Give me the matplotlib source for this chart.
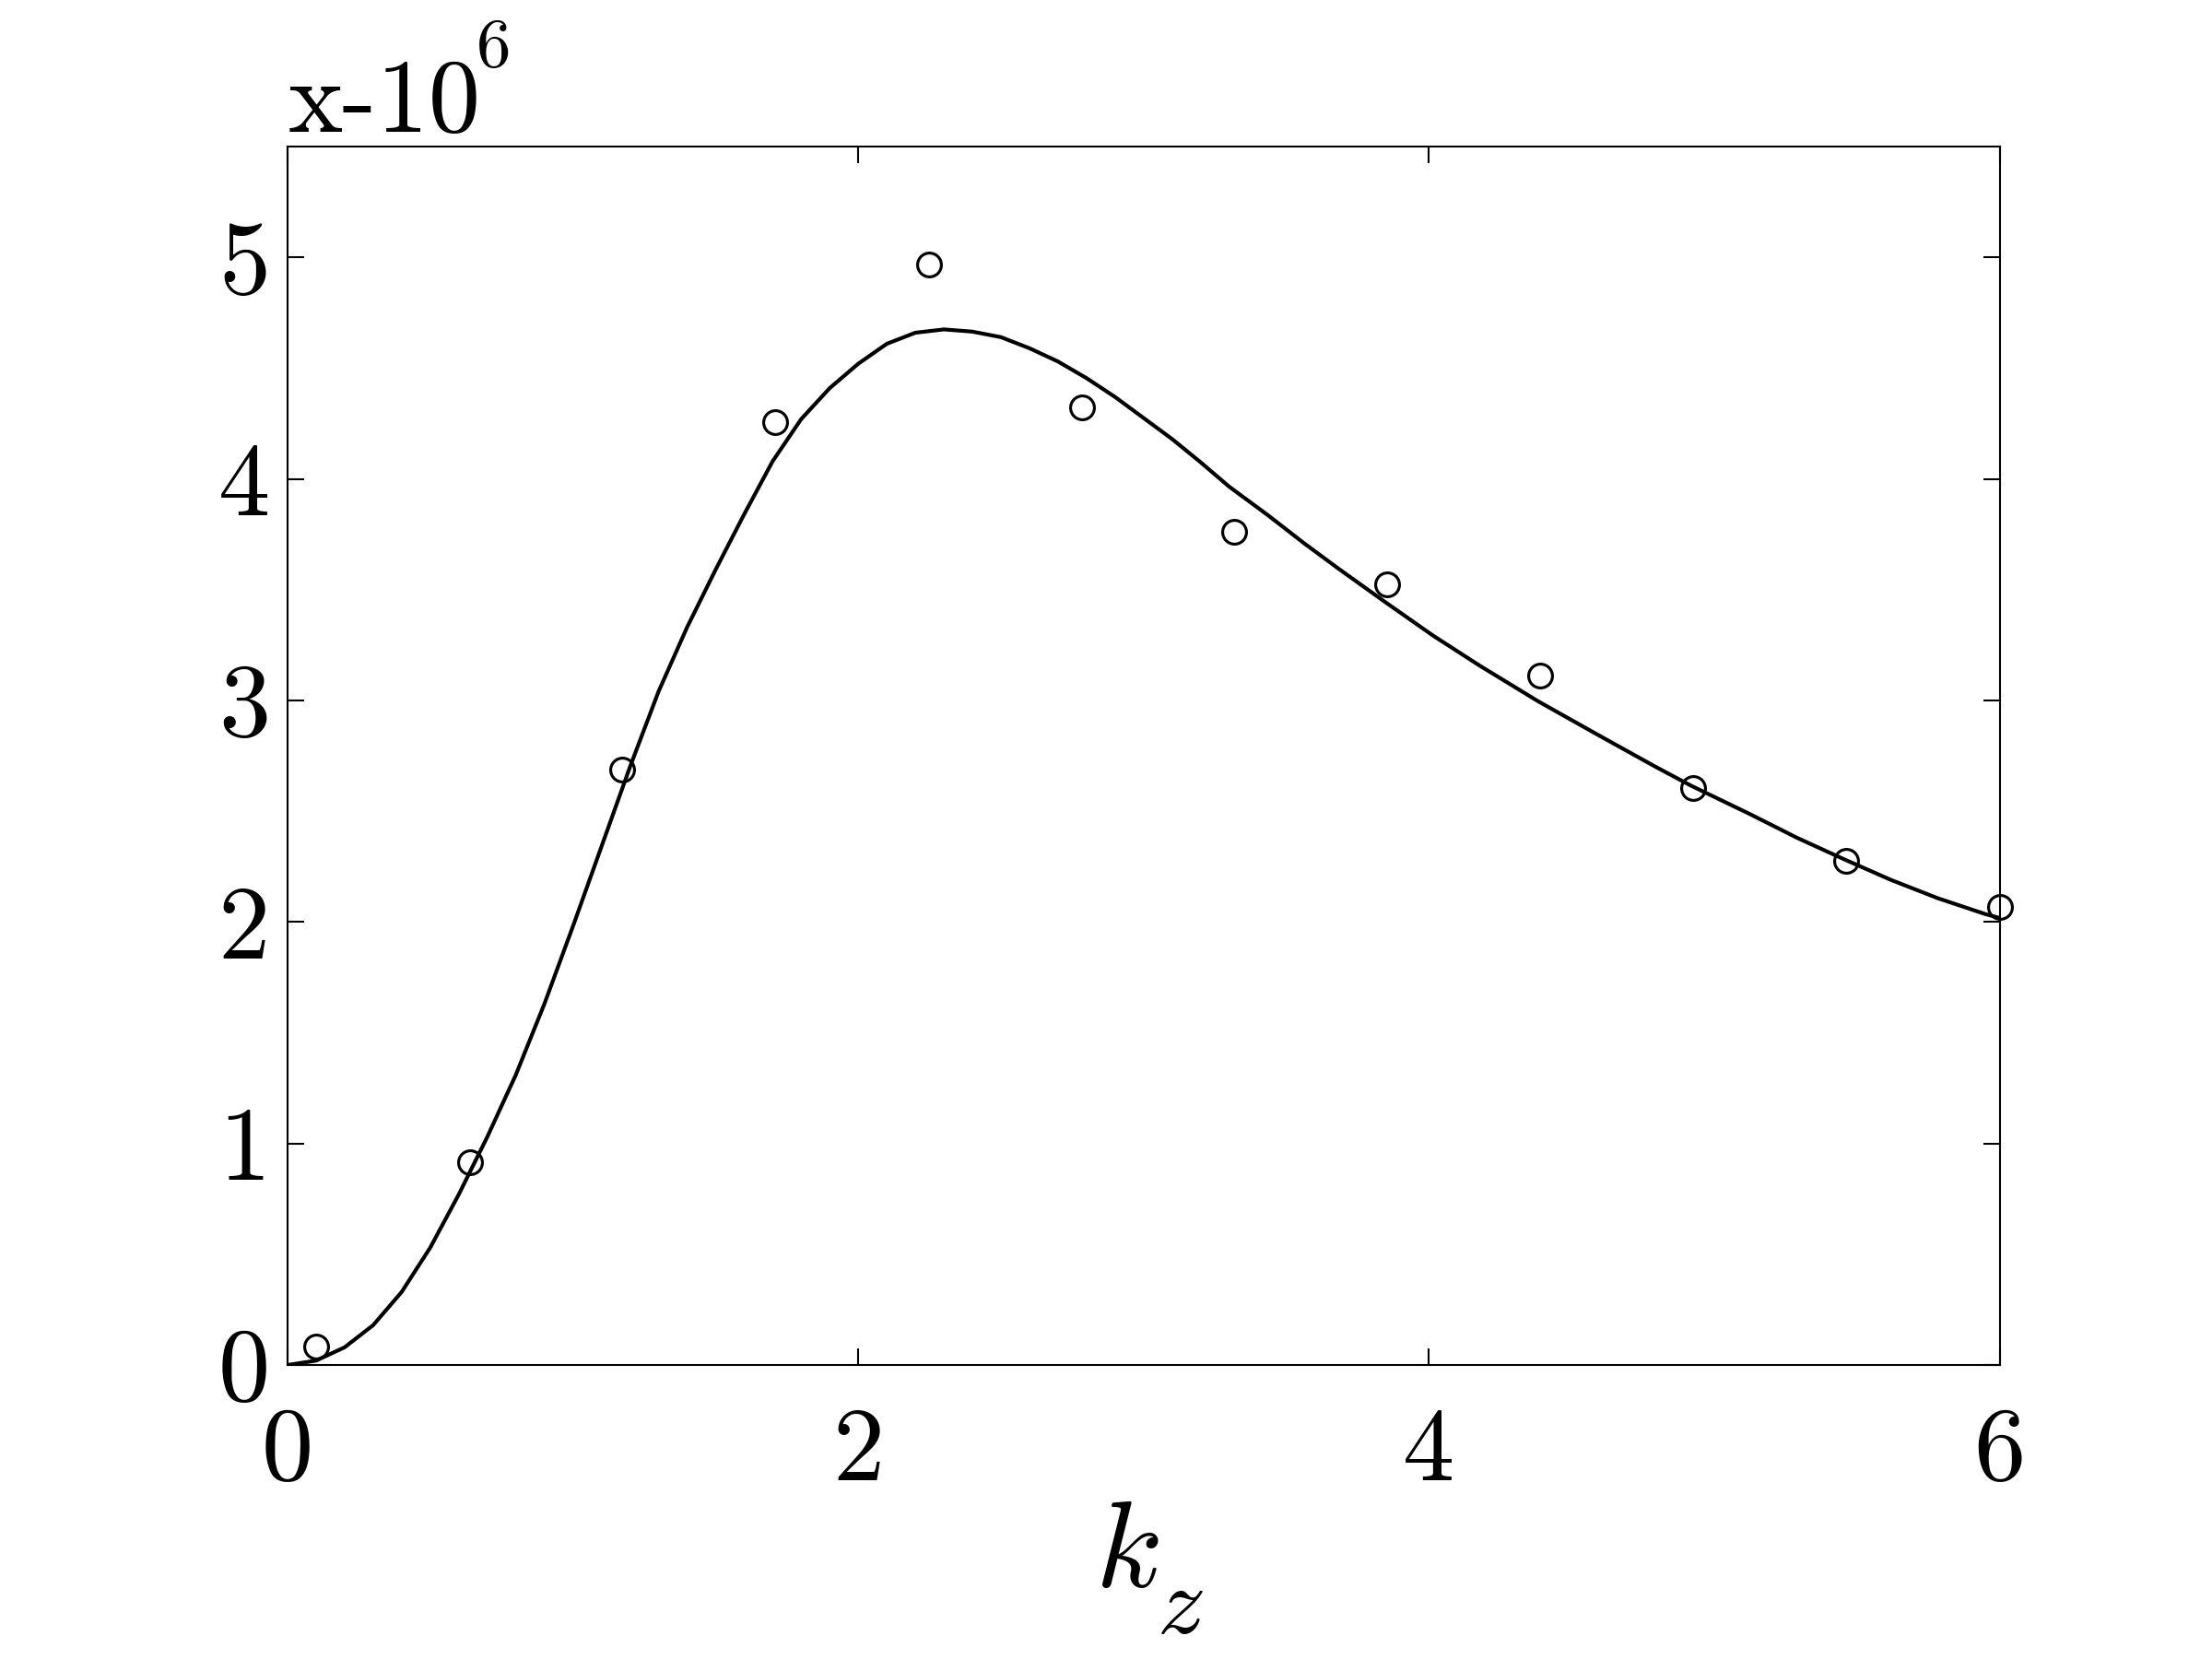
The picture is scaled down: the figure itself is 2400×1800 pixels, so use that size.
import matplotlib
matplotlib.use('Agg')
import matplotlib.pyplot as plt

plt.rcParams['font.family'] = 'cmr10'
plt.rcParams['mathtext.fontset'] = 'cm'
plt.rcParams['axes.unicode_minus'] = False
plt.rcParams['axes.formatter.use_mathtext'] = True

# measured points (units of 1e6)
kz_pts = [0.099, 0.638, 1.173, 1.710, 2.248, 2.785, 3.317, 3.852, 4.390, 4.925, 5.463, 6.0]
amp_pts = [0.085, 0.917, 2.690, 4.258, 4.966, 4.321, 3.762, 3.523, 3.113, 2.606, 2.277, 2.070]

# fitted curve
kz_fit = [0.0, 0.1, 0.2, 0.3, 0.4, 0.5, 0.6, 0.7, 0.8, 0.9,
          1.0, 1.1, 1.2, 1.3, 1.4, 1.5, 1.6, 1.7, 1.8, 1.9,
          2.0, 2.1, 2.2, 2.3, 2.4, 2.5, 2.6, 2.7, 2.8, 2.9,
          3.0, 3.1, 3.2, 3.3, 3.436, 3.560, 3.684, 3.848, 4.013, 4.178,
          4.383, 4.589, 4.795, 4.919, 5.125, 5.290, 5.455, 5.619, 5.784, 5.949,
          6.0]
amp_fit = [0.0, 0.02, 0.08, 0.18, 0.33, 0.53, 0.77, 1.03, 1.31, 1.63,
           1.98, 2.34, 2.70, 3.04, 3.33, 3.59, 3.84, 4.08, 4.27, 4.41,
           4.52, 4.61, 4.66, 4.675, 4.665, 4.64, 4.59, 4.53, 4.455, 4.37,
           4.275, 4.18, 4.075, 3.965, 3.836, 3.712, 3.594, 3.443, 3.294, 3.157,
           2.996, 2.847, 2.700, 2.615, 2.487, 2.380, 2.283, 2.190, 2.107, 2.036,
           2.018]

xticks = [0, 2, 4, 6]
yticks = [0, 1, 2, 3, 4, 5]

fig = plt.figure(figsize=(8, 6), dpi=300)
ax = fig.add_axes([0.130, 0.1772, 0.774, 0.7344])

ax.plot(kz_fit, amp_fit, '-', color='k', linewidth=1.0)
ax.plot(kz_pts, amp_pts, 'o', markerfacecolor='none', markeredgecolor='k',
        markersize=6.2, markeredgewidth=0.75, clip_on=False)

ax.set_xlim(0, 6)
ax.set_ylim(0, 5.5)
ax.set_xticks(xticks)
ax.set_yticks(yticks)
ax.set_xticklabels([str(t) for t in xticks])
ax.set_yticklabels([str(t) for t in yticks])

for s in ax.spines.values():
    s.set_linewidth(0.5)
ax.tick_params(direction='in', length=4.4, width=0.5, top=True, right=True,
               labelsize=27)
ax.tick_params(axis='x', pad=11)
ax.tick_params(axis='y', pad=4.5)

# multiplier
fig.text(313 / 2400, 1 - 143 / 1800, 'x-10', fontsize=27, va='baseline', ha='left')
fig.text(517 / 2400, 1 - 72 / 1800, '6', fontsize=18, va='baseline', ha='left')

# x label k_z
fig.text(1188 / 2400, 1 - 1722 / 1800, r'$k$', fontsize=32, va='baseline', ha='left')
fig.text(1255 / 2400, 1 - 1772 / 1800, r'$z$', fontsize=25, va='baseline', ha='left')

fig.savefig('out.png', dpi=300)
